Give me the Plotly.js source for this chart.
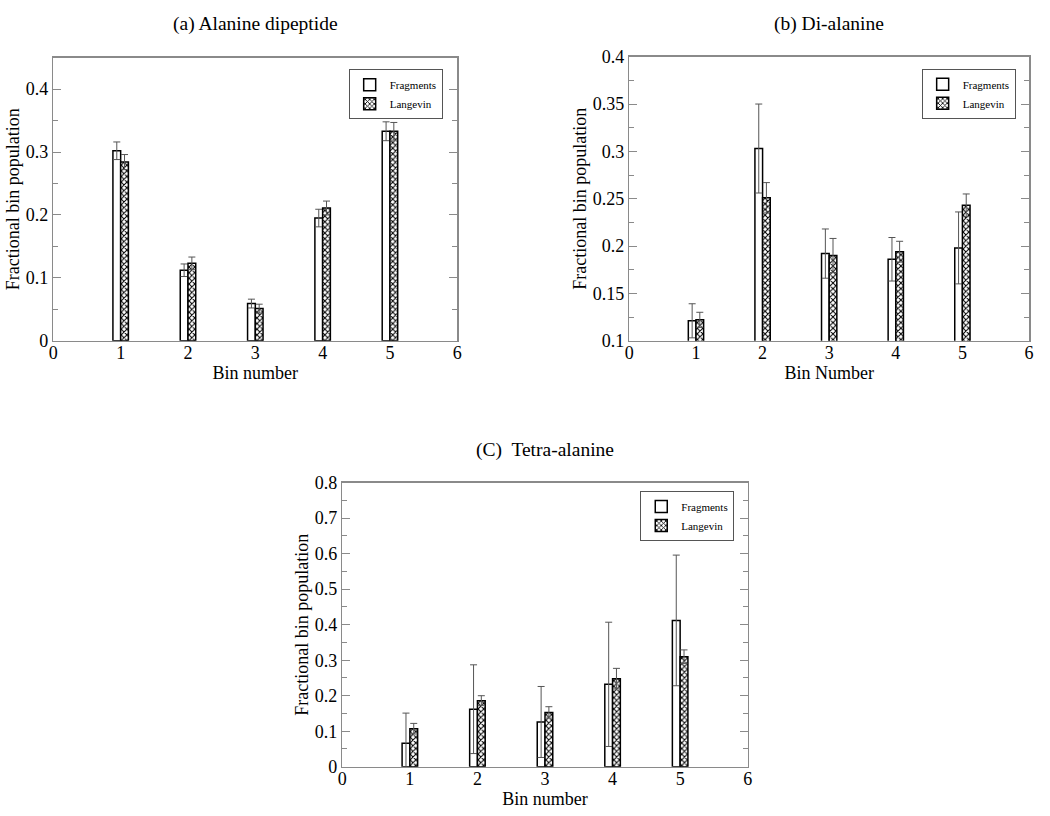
<!DOCTYPE html>
<html>
<head>
<meta charset="utf-8">
<script src="https://cdn.plot.ly/plotly-3.0.1.min.js"></script>
<style>html,body{margin:0;padding:0;background:#fff;}#chart{width:1050px;height:816px;}</style>
</head>
<body>
<div id="chart"></div>
<script>
// ---- data ----
const bins = [1, 2, 3, 4, 5];
const xTickVals = [0, 1, 2, 3, 4, 5, 6];

// (a) Alanine dipeptide
const aFrag    = [0.302, 0.112, 0.059, 0.195, 0.333];
const aFragErr = [0.014, 0.010, 0.007, 0.014, 0.015];
const aLang    = [0.284, 0.123, 0.051, 0.211, 0.333];
const aLangErr = [0.012, 0.010, 0.007, 0.011, 0.014];

// (b) Di-alanine
const bFrag    = [0.121, 0.303, 0.192, 0.186, 0.198];
const bFragErr = [0.018, 0.047, 0.026, 0.023, 0.038];
const bLang    = [0.122, 0.251, 0.190, 0.194, 0.243];
const bLangErr = [0.008, 0.016, 0.018, 0.011, 0.012];

// (c) Tetra-alanine
const cFrag    = [0.066, 0.162, 0.126, 0.232, 0.412];
const cFragErr = [0.085, 0.125, 0.100, 0.175, 0.184];
const cLang    = [0.107, 0.186, 0.153, 0.248, 0.310];
const cLangErr = [0.015, 0.014, 0.016, 0.029, 0.019];

const seriesNames = ['Fragments', 'Langevin'];
const panelTitles = ['(a) Alanine dipeptide', '(b) Di-alanine', '(C)  Tetra-alanine'];
const xTitles = ['Bin number', 'Bin Number', 'Bin number'];
const yTitle = 'Fractional bin population';

// ---- styling ----
const FONT = 'Liberation Serif, Times New Roman, serif';
const BW = 0.115;
const frameColor = '#8a8a8a';

function fragTrace(y, err, xa, ya, leg) {
  return {
    type: 'bar', x: bins, y: y, name: seriesNames[0],
    xaxis: xa, yaxis: ya, legend: leg,
    width: BW, offset: -BW,
    marker: {color: '#ffffff', line: {color: '#000', width: 1.5}},
    error_y: {type: 'data', array: err, visible: true, color: '#555', thickness: 1, width: 3.5},
    hoverinfo: 'x+y'
  };
}
function langTrace(y, err, xa, ya, leg) {
  return {
    type: 'bar', x: bins, y: y, name: seriesNames[1],
    xaxis: xa, yaxis: ya, legend: leg,
    width: BW, offset: 0,
    marker: {color: '#ffffff', line: {color: '#000', width: 1.5},
             pattern: {shape: 'x', fgcolor: '#000', bgcolor: '#fff', size: 4, solidity: 0.45}},
    error_y: {type: 'data', array: err, visible: true, color: '#555', thickness: 1, width: 3.5},
    hoverinfo: 'x+y'
  };
}

const data = [
  fragTrace(aFrag, aFragErr, 'x', 'y', 'legend'),
  langTrace(aLang, aLangErr, 'x', 'y', 'legend'),
  fragTrace(bFrag, bFragErr, 'x2', 'y2', 'legend2'),
  langTrace(bLang, bLangErr, 'x2', 'y2', 'legend2'),
  fragTrace(cFrag, cFragErr, 'x3', 'y3', 'legend3'),
  langTrace(cLang, cLangErr, 'x3', 'y3', 'legend3')
];

function xAxis(domain, anchor, title) {
  return {
    domain: domain, anchor: anchor, range: [0, 6],
    tickvals: xTickVals, ticks: '', ticklen: 0, ticklabelstandoff: -5,
    showgrid: false, zeroline: false,
    showline: true, linecolor: frameColor, linewidth: 1.5, mirror: true,
    tickfont: {family: FONT, size: 18, color: '#000'},
    title: {text: title, font: {family: FONT, size: 18, color: '#000'}, standoff: 0},
    fixedrange: true
  };
}
function yAxis(domain, anchor, range, dtick, minor) {
  return {
    domain: domain, anchor: anchor, range: range, dtick: dtick, tick0: 0,
    ticks: 'inside', ticklen: 8, tickwidth: 1, tickcolor: frameColor,
    minor: {dtick: minor, tick0: 0, ticks: 'inside', ticklen: 5, tickcolor: frameColor, tickwidth: 1, showgrid: false},
    showgrid: false, zeroline: false,
    showline: true, linecolor: frameColor, linewidth: 1.5, mirror: 'ticks',
    tickfont: {family: FONT, size: 18, color: '#000'},
    title: {text: yTitle, font: {family: FONT, size: 18, color: '#000'}, standoff: 1},
    fixedrange: true
  };
}
function legendAt(x, y) {
  return {
    x: x, y: y, xanchor: 'right', yanchor: 'top', xref: 'paper', yref: 'paper',
    bgcolor: '#fff', bordercolor: '#555', borderwidth: 1,
    font: {family: FONT, size: 11, color: '#000'},
    tracegroupgap: 0, itemwidth: 30
  };
}

const titleFont = {family: FONT, size: 19.5, color: '#000'};
const layout = {
  width: 1050, height: 816,
  margin: {l: 0, r: 0, t: 0, b: 0},
  paper_bgcolor: '#fff', plot_bgcolor: '#fff',
  barmode: 'overlay',
  showlegend: true,
  xaxis:  xAxis([0.0508, 0.4355], 'y', xTitles[0]),
  yaxis:  yAxis([0.5825, 0.9293], 'x', [0, 0.45], 0.1, 0.05),
  xaxis2: xAxis([0.5994, 0.9800], 'y2', xTitles[1]),
  yaxis2: yAxis([0.5825, 0.9305], 'x2', [0.1, 0.4], 0.05, 0.025),
  xaxis3: xAxis([0.3260, 0.7121], 'y3', xTitles[2]),
  yaxis3: yAxis([0.0604, 0.4085], 'x3', [0, 0.8], 0.1, 0.05),
  legend:  legendAt(0.4216, 0.915),
  legend2: legendAt(0.9673, 0.9158),
  legend3: legendAt(0.6993, 0.3983),
  annotations: [
    {text: panelTitles[0], x: 0.2431, y: 1 - 24 / 816, xref: 'paper', yref: 'paper', showarrow: false,
     xanchor: 'center', yanchor: 'middle', font: titleFont},
    {text: panelTitles[1], x: 0.7897, y: 1 - 24 / 816, xref: 'paper', yref: 'paper', showarrow: false,
     xanchor: 'center', yanchor: 'middle', font: titleFont},
    {text: panelTitles[2], x: 0.519, y: 1 - 450 / 816, xref: 'paper', yref: 'paper', showarrow: false,
     xanchor: 'center', yanchor: 'middle', font: titleFont}
  ]
};

Plotly.newPlot('chart', data, layout, {displayModeBar: false, staticPlot: true});
</script>
</body>
</html>
